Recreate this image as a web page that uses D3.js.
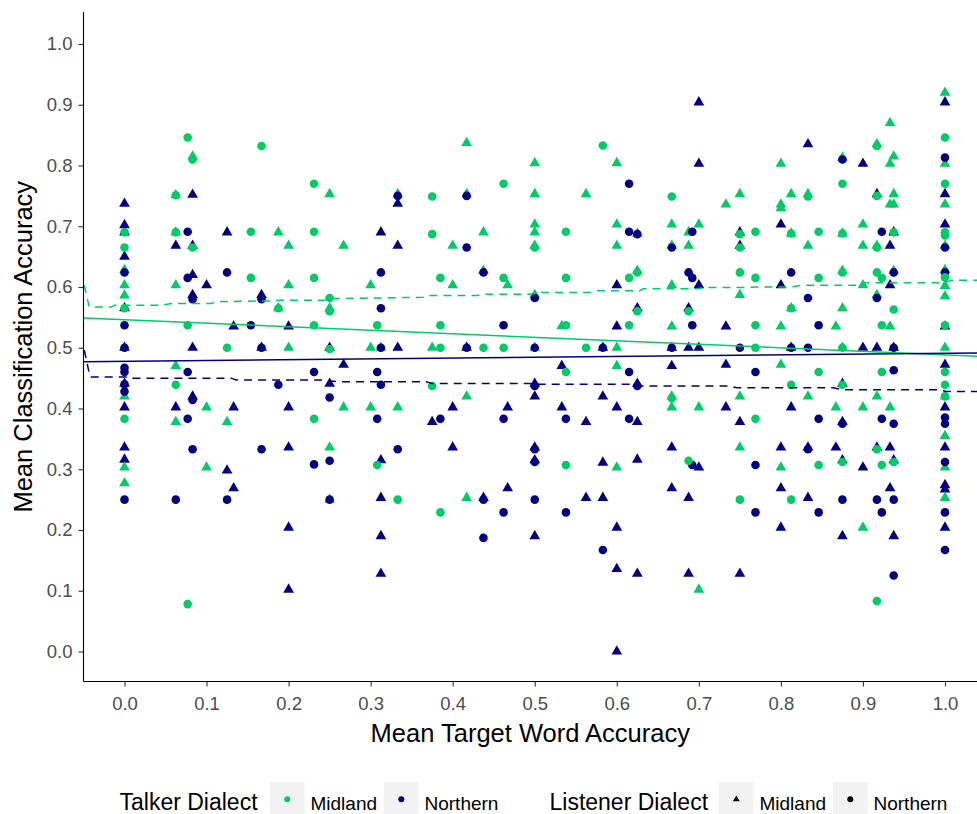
<!DOCTYPE html>
<html>
<head>
<meta charset="utf-8">
<script src="https://cdn.jsdelivr.net/npm/d3@7"></script>
<style>
  body { margin: 0; background: #fff; }
  svg { display: block; }
  text { font-family: "Liberation Sans", Arial, sans-serif; }
</style>
</head>
<body>
<svg id="chart"></svg>
<script>
const width = 977, height = 814;

// tick values (both axes)
const ticks = [0, 0.1, 0.2, 0.3, 0.4, 0.5, 0.6, 0.7, 0.8, 0.9, 1.0];

// Talker Northern / Listener Midland (navy triangles)  [x, y]
const northMid = [
  [0,0.737],[0,0.702],[0,0.69],[0,0.65],[0,0.565],[0,0.5],[0,0.441],[0,0.402],[0,0.336],[0,0.316],
  [0.0625,0.668],[0.0625,0.402],
  [0.083,0.752],[0.083,0.668],[0.083,0.62],[0.083,0.587],[0.083,0.5],[0.083,0.42],
  [0.1,0.603],[0.125,0.69],[0.125,0.298],[0.133,0.535],[0.133,0.402],[0.133,0.269],
  [0.167,0.587],[0.167,0.5],
  [0.2,0.535],[0.2,0.402],[0.2,0.336],[0.2,0.204],[0.2,0.102],
  [0.25,0.5],[0.25,0.441],[0.267,0.472],
  [0.3125,0.69],[0.3125,0.315],[0.3125,0.253],[0.3125,0.19],[0.3125,0.128],
  [0.333,0.737],[0.333,0.668],[0.333,0.5],
  [0.375,0.378],[0.4,0.402],[0.4,0.336],[0.417,0.5],[0.4375,0.253],[0.467,0.402],[0.467,0.269],
  [0.5,0.441],[0.5,0.42],[0.5,0.336],[0.5,0.315],[0.5,0.19],
  [0.533,0.47],[0.533,0.402],[0.5625,0.378],[0.5625,0.253],
  [0.583,0.5],[0.583,0.42],[0.583,0.311],[0.583,0.253],
  [0.6,0.603],[0.6,0.535],[0.6,0.402],[0.6,0.204],[0.6,0.136],[0.6,0.0],
  [0.625,0.565],[0.625,0.441],[0.625,0.378],[0.625,0.316],[0.625,0.128],
  [0.667,0.5],[0.667,0.47],[0.667,0.336],[0.667,0.269],
  [0.6875,0.565],[0.6875,0.5],[0.6875,0.253],[0.6875,0.128],
  [0.7,0.904],[0.7,0.803],[0.7,0.603],[0.7,0.5],[0.7,0.303],
  [0.733,0.535],[0.733,0.472],[0.733,0.402],
  [0.75,0.69],[0.75,0.668],[0.75,0.378],[0.75,0.128],
  [0.8,0.703],[0.8,0.603],[0.8,0.336],[0.8,0.269],[0.8,0.204],
  [0.8125,0.5],[0.8125,0.402],[0.833,0.835],[0.833,0.336],[0.833,0.253],[0.867,0.336],
  [0.875,0.441],[0.875,0.378],[0.875,0.315],[0.875,0.19],
  [0.9,0.803],[0.9,0.5],[0.9,0.303],[0.917,0.753],[0.917,0.5],[0.917,0.336],
  [0.933,0.668],[0.933,0.603],[0.933,0.336],[0.933,0.269],
  [0.9375,0.69],[0.9375,0.5],[0.9375,0.315],[0.9375,0.19],
  [1,0.904],[1,0.753],[1,0.703],[1,0.535],[1,0.472],[1,0.402],[1,0.336],[1,0.274],[1,0.267],[1,0.204]
];

// Talker Midland / Listener Midland (green triangles)
const midMid = [
  [0,0.628],[0,0.603],[0,0.586],[0,0.42],[0,0.303],[0,0.277],
  [0.0625,0.751],[0.0625,0.69],[0.0625,0.603],[0.0625,0.47],[0.0625,0.378],
  [0.083,0.815],[0.1,0.402],[0.1,0.303],[0.125,0.378],
  [0.1875,0.69],[0.1875,0.565],[0.2,0.668],[0.2,0.603],[0.2,0.5],
  [0.25,0.753],[0.25,0.565],[0.25,0.336],[0.25,0.25],[0.267,0.668],[0.267,0.402],
  [0.3,0.603],[0.3,0.5],[0.3,0.402],[0.3125,0.5],[0.333,0.753],[0.333,0.402],
  [0.375,0.5],[0.4,0.668],[0.4,0.603],
  [0.417,0.837],[0.417,0.753],[0.417,0.42],[0.417,0.253],[0.4375,0.69],[0.4375,0.627],[0.467,0.603],
  [0.5,0.804],[0.5,0.753],[0.5,0.703],[0.5,0.69],[0.5,0.668],[0.5,0.587],[0.5,0.5],
  [0.533,0.536],[0.5625,0.753],
  [0.6,0.804],[0.6,0.703],[0.6,0.668],[0.6,0.5],[0.6,0.47],[0.6,0.303],
  [0.625,0.688],[0.625,0.627],
  [0.667,0.703],[0.667,0.668],[0.667,0.603],[0.667,0.535],[0.667,0.42],[0.667,0.402],
  [0.6875,0.69],[0.6875,0.668],[0.7,0.703],[0.7,0.402],[0.7,0.102],[0.733,0.736],
  [0.75,0.753],[0.75,0.587],[0.75,0.42],[0.75,0.336],
  [0.8,0.803],[0.8,0.736],[0.8,0.73],[0.8,0.535],[0.8,0.472],[0.8,0.303],
  [0.8125,0.753],[0.8125,0.688],[0.8125,0.565],[0.833,0.753],[0.833,0.668],[0.833,0.42],
  [0.867,0.535],[0.867,0.402],
  [0.875,0.813],[0.875,0.688],[0.875,0.627],[0.875,0.565],[0.875,0.5],
  [0.9,0.703],[0.9,0.668],[0.9,0.603],[0.9,0.402],[0.9,0.204],
  [0.917,0.835],[0.917,0.668],[0.917,0.587],[0.917,0.42],
  [0.933,0.87],[0.933,0.803],[0.933,0.736],[0.933,0.535],[0.933,0.402],
  [0.9375,0.815],[0.9375,0.753],[0.9375,0.736],[0.9375,0.627],
  [1,0.92],[1,0.803],[1,0.736],[1,0.668],[1,0.628],[1,0.602],[1,0.585],[1,0.5],[1,0.42],[1,0.355],[1,0.303],[1,0.253]
];

// Talker Northern / Listener Northern (navy circles)
const northNorth = [
  [0,0.624],[0,0.537],[0,0.5],[0,0.467],[0,0.46],[0,0.44],[0,0.428],[0,0.25],
  [0.0625,0.25],[0.077,0.691],[0.077,0.615],[0.077,0.46],[0.077,0.383],
  [0.083,0.58],[0.083,0.414],[0.083,0.333],[0.125,0.624],[0.125,0.25],
  [0.154,0.537],[0.167,0.58],[0.167,0.5],[0.167,0.333],[0.1875,0.439],
  [0.231,0.46],[0.231,0.308],[0.25,0.418],[0.25,0.314],[0.25,0.25],
  [0.308,0.46],[0.308,0.383],[0.3125,0.624],[0.3125,0.565],[0.3125,0.5],[0.3125,0.439],
  [0.333,0.75],[0.333,0.333],[0.385,0.383],[0.417,0.75],[0.417,0.665],[0.417,0.5],
  [0.4375,0.624],[0.4375,0.25],[0.4375,0.187],[0.462,0.537],[0.462,0.383],[0.462,0.229],
  [0.5,0.582],[0.5,0.5],[0.5,0.437],[0.5,0.333],[0.5,0.312],[0.5,0.25],
  [0.538,0.383],[0.538,0.229],[0.583,0.5],[0.583,0.167],
  [0.615,0.77],[0.615,0.691],[0.615,0.46],[0.615,0.383],[0.625,0.687],[0.625,0.437],
  [0.667,0.665],[0.667,0.5],[0.6875,0.624],
  [0.692,0.691],[0.692,0.615],[0.692,0.537],[0.692,0.307],[0.75,0.5],
  [0.769,0.46],[0.769,0.307],[0.769,0.229],[0.8125,0.624],[0.8125,0.5],
  [0.833,0.582],[0.833,0.5],[0.833,0.333],[0.846,0.537],[0.846,0.383],[0.846,0.229],
  [0.875,0.81],[0.875,0.375],[0.875,0.25],[0.917,0.582],[0.917,0.25],
  [0.923,0.691],[0.923,0.383],[0.923,0.229],
  [0.9375,0.624],[0.9375,0.5],[0.9375,0.463],[0.9375,0.375],[0.9375,0.25],[0.9375,0.125],
  [1,0.813],[1,0.665],[1,0.624],[1,0.385],[1,0.375],[1,0.312],[1,0.229],[1,0.167]
];

// Talker Midland / Listener Northern (green circles)
const midNorth = [
  [0,0.69],[0,0.665],[0,0.565],[0,0.383],
  [0.0625,0.751],[0.0625,0.69],[0.0625,0.439],[0.077,0.846],[0.077,0.537],[0.077,0.078],
  [0.083,0.81],[0.083,0.665],[0.125,0.5],[0.154,0.691],[0.154,0.615],[0.167,0.832],[0.1875,0.565],
  [0.231,0.77],[0.231,0.691],[0.231,0.615],[0.231,0.537],[0.231,0.383],
  [0.25,0.582],[0.25,0.56],[0.25,0.498],[0.308,0.537],[0.308,0.307],[0.333,0.25],
  [0.375,0.749],[0.375,0.687],[0.375,0.437],[0.385,0.615],[0.385,0.537],[0.385,0.5],[0.385,0.229],
  [0.4375,0.5],[0.462,0.77],[0.462,0.615],[0.462,0.5],[0.5,0.665],
  [0.538,0.691],[0.538,0.615],[0.538,0.537],[0.538,0.46],[0.538,0.307],[0.5625,0.5],[0.583,0.833],
  [0.615,0.615],[0.615,0.537],[0.625,0.624],[0.625,0.56],[0.667,0.749],[0.667,0.417],
  [0.6875,0.56],[0.6875,0.314],[0.75,0.687],[0.75,0.665],[0.75,0.624],[0.75,0.25],
  [0.769,0.691],[0.769,0.615],[0.769,0.537],[0.769,0.5],[0.769,0.383],
  [0.8125,0.688],[0.8125,0.565],[0.8125,0.439],[0.8125,0.25],[0.833,0.749],
  [0.846,0.691],[0.846,0.615],[0.846,0.46],[0.846,0.307],
  [0.875,0.77],[0.875,0.688],[0.875,0.624],[0.875,0.5],[0.875,0.439],[0.875,0.312],
  [0.917,0.832],[0.917,0.75],[0.917,0.665],[0.917,0.624],[0.917,0.333],[0.917,0.083],
  [0.923,0.615],[0.923,0.537],[0.923,0.46],[0.923,0.307],[0.9375,0.69],[0.9375,0.563],[0.9375,0.312],
  [1,0.846],[1,0.77],[1,0.69],[1,0.685],[1,0.616],[1,0.537],[1,0.46],[1,0.439],[1,0.42]
];

// fitted lines
const midFit = [[-0.05, 0.549], [1.05, 0.4855]];
const northFit = [[-0.05, 0.477], [1.05, 0.4915]];
const midDash = [
  [-0.049,0.603],[-0.043,0.567],[-0.016,0.567],[-0.012,0.570],[0.045,0.570],[0.057,0.573],
  [0.105,0.573],[0.114,0.576],[0.175,0.577],[0.19,0.578],[0.243,0.578],[0.255,0.581],
  [0.364,0.583],[0.372,0.586],[0.43,0.586],[0.437,0.588],[0.494,0.588],[0.506,0.591],
  [0.567,0.591],[0.576,0.594],[0.628,0.594],[0.632,0.597],[0.697,0.597],[0.709,0.599],
  [0.757,0.599],[0.77,0.6],[0.812,0.6],[0.826,0.603],[0.896,0.603],[0.9,0.607],
  [0.999,0.607],[1.008,0.611],[1.05,0.611]
];
const northDash = [
  [-0.049,0.496],[-0.042,0.452],[0.005,0.452],[0.008,0.450],[0.13,0.450],[0.136,0.447],
  [0.24,0.447],[0.26,0.444],[0.368,0.444],[0.375,0.441],[0.494,0.441],[0.506,0.440],
  [0.616,0.440],[0.628,0.437],[0.738,0.437],[0.746,0.434],[0.864,0.434],[0.876,0.431],
  [0.99,0.431],[1.002,0.428],[1.05,0.428]
];

const green = "#00CC66", navy = "#000080";

const x = d3.scaleLinear().domain([-0.05, 1.05]).range([124.5 - 0.05 * 820.5, 124.5 + 1.05 * 820.5]);
const y = d3.scaleLinear().domain([-0.05, 1.05]).range([651.5 + 0.05 * 607.5, 651.5 - 1.05 * 607.5]);

const panelLeft = 83.5, panelBottom = 681.5, panelTop = 12;

const svg = d3.select("#chart").attr("width", width).attr("height", height);
svg.append("rect").attr("width", width).attr("height", height).attr("fill", "#fff");

svg.append("clipPath").attr("id", "panel")
  .append("rect").attr("x", panelLeft).attr("y", panelTop)
  .attr("width", width - panelLeft).attr("height", panelBottom - panelTop);

const g = svg.append("g").attr("clip-path", "url(#panel)");

const tri = d3.symbol().type(d3.symbolTriangle).size(50);

function drawTriangles(data, color) {
  g.append("g").selectAll("path")
    .data(data)
    .join("path")
    .attr("d", tri)
    .attr("transform", d => `translate(${x(d[0])},${y(d[1])})`)
    .attr("fill", color);
}
function drawCircles(data, color) {
  g.append("g").selectAll("circle")
    .data(data)
    .join("circle")
    .attr("cx", d => x(d[0]))
    .attr("cy", d => y(d[1]))
    .attr("r", 4.3)
    .attr("fill", color);
}

drawTriangles(northMid, navy);
drawTriangles(midMid, green);
drawCircles(northNorth, navy);
drawCircles(midNorth, green);

const line = d3.line().x(d => x(d[0])).y(d => y(d[1]));
g.append("path").datum(midFit).attr("d", line).attr("fill", "none").attr("stroke", green).attr("stroke-width", 1.5);
g.append("path").datum(northFit).attr("d", line).attr("fill", "none").attr("stroke", navy).attr("stroke-width", 1.5);
g.append("path").datum(midDash).attr("d", line).attr("fill", "none").attr("stroke", green).attr("stroke-width", 1.5).attr("stroke-dasharray", "8,6");
g.append("path").datum(northDash).attr("d", line).attr("fill", "none").attr("stroke", navy).attr("stroke-width", 1.5).attr("stroke-dasharray", "8,6");

// axes
const fmt = d3.format(".1f");
const xAxis = svg.append("g").attr("transform", `translate(0,${panelBottom})`)
  .call(d3.axisBottom(x).tickValues(ticks).tickFormat(fmt).tickSize(5).tickSizeOuter(0).tickPadding(10));
const yAxis = svg.append("g").attr("transform", `translate(${panelLeft},0)`)
  .call(d3.axisLeft(y).tickValues(ticks).tickFormat(fmt).tickSize(5).tickSizeOuter(0).tickPadding(6));

[xAxis, yAxis].forEach(a => {
  a.select(".domain").remove();
  a.selectAll(".tick line").attr("stroke", "#333").attr("stroke-width", 1.1);
  a.selectAll(".tick text").attr("fill", "#4d4d4d").style("font-size", "18.5px")
    .style("font-family", '"Liberation Sans", Arial, sans-serif');
});

svg.append("line").attr("x1", panelLeft).attr("x2", width).attr("y1", panelBottom).attr("y2", panelBottom)
  .attr("stroke", "#000").attr("stroke-width", 1.1);
svg.append("line").attr("x1", panelLeft).attr("x2", panelLeft).attr("y1", panelTop).attr("y2", panelBottom)
  .attr("stroke", "#000").attr("stroke-width", 1.1);

svg.append("text").attr("x", (panelLeft + width) / 2).attr("y", 742).attr("text-anchor", "middle")
  .style("font-size", "25.5px").text("Mean Target Word Accuracy");
svg.append("text").attr("transform", `translate(31.5,${(panelTop + panelBottom) / 2}) rotate(-90)`)
  .attr("text-anchor", "middle").style("font-size", "25.5px").text("Mean Classification Accuracy");

// legends
const legTalker = svg.append("g");
legTalker.append("text").attr("x", 119.5).attr("y", 810).style("font-size", "23px").text("Talker Dialect");
[[270, "Midland", green], [384, "Northern", navy]].forEach(([kx, label, color]) => {
  legTalker.append("rect").attr("x", kx).attr("y", 782).attr("width", 34.5).attr("height", 34.5).attr("fill", "#f2f2f2");
  legTalker.append("circle").attr("cx", kx + 17.3).attr("cy", 799.3).attr("r", 3).attr("fill", color);
  legTalker.append("text").attr("x", kx + 40.5).attr("y", 809.5).style("font-size", "19px").text(label);
});

const legListener = svg.append("g");
legListener.append("text").attr("x", 549.5).attr("y", 810).style("font-size", "23px").text("Listener Dialect");
const smallTri = d3.symbol().type(d3.symbolTriangle).size(20);
[[719, "Midland", "tri"], [833, "Northern", "circle"]].forEach(([kx, label, shape]) => {
  legListener.append("rect").attr("x", kx).attr("y", 782).attr("width", 34.5).attr("height", 34.5).attr("fill", "#f2f2f2");
  if (shape === "tri") {
    legListener.append("path").attr("d", smallTri).attr("transform", `translate(${kx + 17.3},799.3)`).attr("fill", "#000");
  } else {
    legListener.append("circle").attr("cx", kx + 17.3).attr("cy", 799.3).attr("r", 3).attr("fill", "#000");
  }
  legListener.append("text").attr("x", kx + 40.5).attr("y", 809.5).style("font-size", "19px").text(label);
});
</script>
</body>
</html>
